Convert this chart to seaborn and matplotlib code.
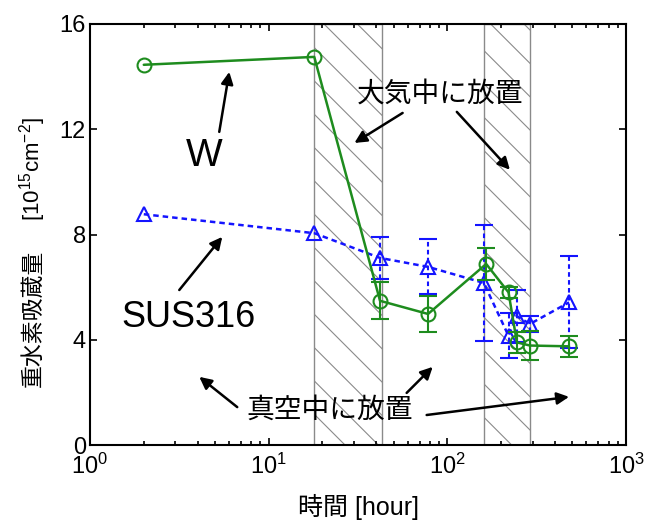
import numpy as np
import pandas as pd
import matplotlib
matplotlib.use("Agg")
import matplotlib.pyplot as plt
import seaborn as sns

# ---- data ----
hours_W = [2, 18, 42, 78, 165, 220, 245, 290, 480]
W_vals = [14.45, 14.75, 5.48, 4.98, 6.88, 5.8, 3.9, 3.78, 3.75]
W_err = [0, 0, 0.7, 0.7, 0.6, 0.2, 0.4, 0.55, 0.4]

hours_S = [2, 18, 42, 78, 160, 220, 245, 290, 480]
S_vals = [8.77, 8.05, 7.11, 6.77, 6.16, 4.15, 4.9, 4.6, 5.42]
S_err = [0, 0, 0.8, 1.05, 2.2, 0.85, 1.0, 0.3, 1.75]

air_periods = [(18, 43), (160, 292)]

x_ticks = [1, 10, 100, 1000]
y_ticks = [0, 4, 8, 12, 16]

sns.set_style("ticks")
plt.rcParams["font.family"] = ["Liberation Sans", "Noto Sans CJK JP", "DejaVu Sans"]
plt.rcParams["mathtext.fontset"] = "custom"
plt.rcParams["mathtext.rm"] = "Liberation Sans"
plt.rcParams["mathtext.it"] = "Liberation Sans:italic"
plt.rcParams["mathtext.bf"] = "Liberation Sans:bold"
plt.rcParams["hatch.linewidth"] = 0.8
for k in ["text.color", "axes.labelcolor", "xtick.color", "ytick.color"]:
    plt.rcParams[k] = "black"

GREEN = "#1e8c1e"
BLUE = "#1414ff"

fig = plt.figure(figsize=(6.48, 5.29), dpi=100)
ax = fig.add_axes([90 / 648, 84 / 529, 536 / 648, 421 / 529])

for a, b in air_periods:
    ax.axvspan(a, b, facecolor="none", edgecolor="#8a8a8a", hatch="\\",
               linewidth=1.0, zorder=0)

dfW = pd.DataFrame({"h": hours_W, "v": W_vals, "e": W_err})
dfS = pd.DataFrame({"h": hours_S, "v": S_vals, "e": S_err})

sns.lineplot(data=dfS, x="h", y="v", ax=ax, sort=False, color=BLUE,
             linestyle=(0, (2.2, 1.6)), linewidth=1.8, marker="^",
             markersize=10, markerfacecolor="none", markeredgecolor=BLUE,
             markeredgewidth=1.5, zorder=3)
sns.lineplot(data=dfW, x="h", y="v", ax=ax, sort=False, color=GREEN,
             linestyle="-", linewidth=1.8, marker="o",
             markersize=10, markerfacecolor="none", markeredgecolor=GREEN,
             markeredgewidth=1.5, zorder=4)

mS = dfS["e"] > 0
eb = ax.errorbar(dfS.loc[mS, "h"], dfS.loc[mS, "v"], yerr=dfS.loc[mS, "e"],
                 fmt="none", ecolor=BLUE, elinewidth=1.5, capsize=6.5,
                 capthick=1.5, zorder=3)
eb[2][0].set_linestyle((0, (2.2, 1.6)))
mW = dfW["e"] > 0
ax.errorbar(dfW.loc[mW, "h"], dfW.loc[mW, "v"], yerr=dfW.loc[mW, "e"],
            fmt="none", ecolor=GREEN, elinewidth=1.5, capsize=6.5,
            capthick=1.5, zorder=4)

ax.set_xscale("log")
ax.set_xlim(1, 1000)
ax.set_ylim(0, 16)
ax.set_xticks(x_ticks)
ax.set_yticks(y_ticks)
ax.tick_params(which="both", direction="in", top=True, right=True,
               labelsize=17, width=1.2, pad=6)
ax.tick_params(which="major", length=5)
ax.tick_params(which="minor", length=3)
ax.tick_params(axis="y", pad=3)
for s in ax.spines.values():
    s.set_linewidth(1.5)
    s.set_color("black")

ax.set_xlabel("時間 [hour]", fontsize=18, labelpad=11)
ax.set_ylabel("")
# y label: CJK part and unit part (mathtext) as two rotated texts on one baseline
ax.text(-0.094, 0.30, "重水素吸蔵量", transform=ax.transAxes, rotation=90,
        rotation_mode="anchor", ha="center", va="baseline", fontsize=16.5,
        family=["Noto Sans CJK JP", "DejaVu Sans"])
ax.text(-0.094, 0.655, "[10$^{15}$cm$^{-2}$]", transform=ax.transAxes,
        rotation=90, rotation_mode="anchor", ha="center", va="baseline",
        fontsize=16)

arrow = dict(arrowstyle="-|>", color="black", lw=1.8, mutation_scale=18,
             shrinkA=0, shrinkB=0)

ax.text(4.36, 11.0, "W", fontsize=28, ha="center", va="center")
ax.annotate("", xy=(6.02, 14.18), xytext=(5.29, 11.9), arrowprops=arrow)

ax.text(3.55, 4.83, "SUS316", fontsize=26, ha="center", va="center")
ax.annotate("", xy=(5.5, 7.91), xytext=(3.16, 5.89), arrowprops=arrow)

ax.text(21.9, 1.3, "真空中に放置", fontsize=20, ha="center", va="center")
ax.annotate("", xy=(4.09, 2.59), xytext=(6.67, 1.44), arrowprops=arrow)
ax.annotate("", xy=(82.8, 2.97), xytext=(59.2, 1.98), arrowprops=arrow)
ax.annotate("", xy=(480, 1.83), xytext=(76.6, 1.14), arrowprops=arrow)

ax.text(90.6, 13.3, "大気中に放置", fontsize=20, ha="center", va="center")
ax.annotate("", xy=(30.2, 11.48), xytext=(56.2, 12.62), arrowprops=arrow)
ax.annotate("", xy=(224, 10.46), xytext=(113, 12.66), arrowprops=arrow)

fig.savefig("out.png", dpi=100)
